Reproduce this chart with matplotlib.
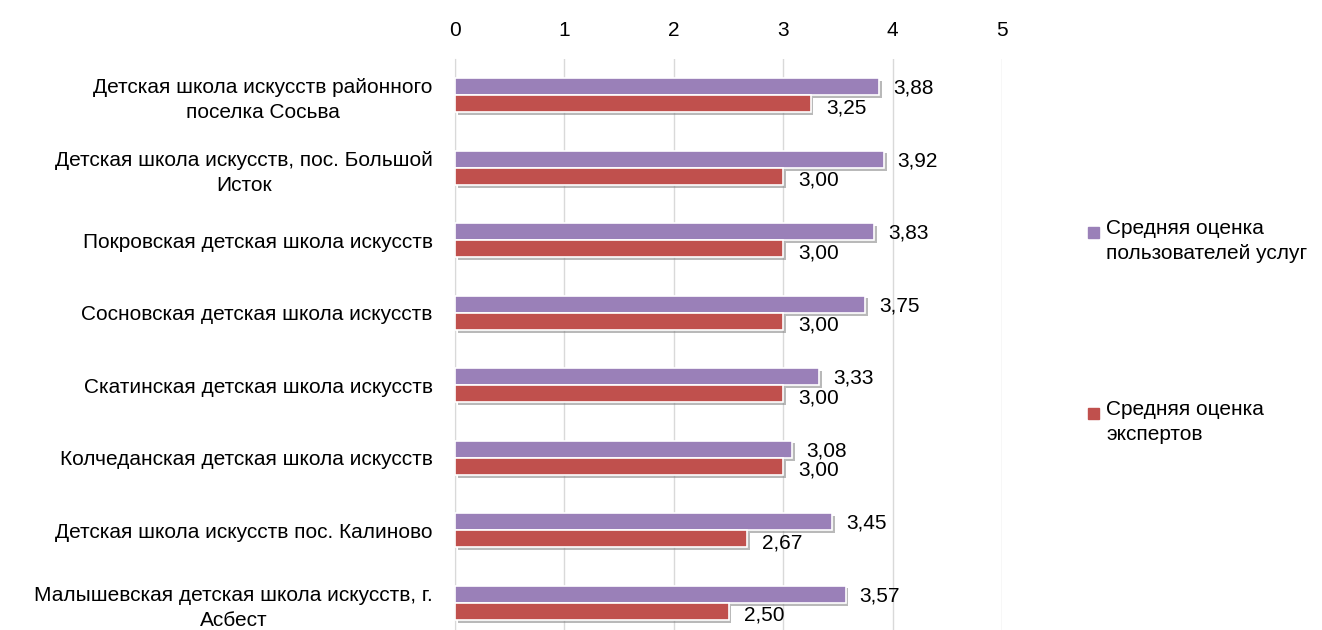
import matplotlib
matplotlib.use("Agg")
import matplotlib.pyplot as plt
import matplotlib.patheffects as pe
from matplotlib.patches import Rectangle
import numpy as np

plt.rcParams['font.family'] = ['Liberation Sans', 'DejaVu Sans']

categories = [
    "Детская школа искусств районного\nпоселка Сосьва",
    "Детская школа искусств, пос. Большой\nИсток",
    "Покровская детская школа искусств",
    "Сосновская детская школа искусств",
    "Скатинская детская школа искусств",
    "Колчеданская детская школа искусств",
    "Детская школа искусств пос. Калиново",
    "Малышевская детская школа искусств, г.\nАсбест",
]
users = [3.88, 3.92, 3.83, 3.75, 3.33, 3.08, 3.45, 3.57]
experts = [3.25, 3.00, 3.00, 3.00, 3.00, 3.00, 2.67, 2.50]
series_names = ["Средняя оценка\nпользователей услуг", "Средняя оценка\nэкспертов"]
xticks = [0, 1, 2, 3, 4, 5]

c_users = "#9A80B8"
c_exp = "#C0504D"
FS = 15

fig = plt.figure(figsize=(13.22, 6.30), dpi=100)
W, H = 1322, 630
ax = fig.add_axes([455 / W, (630 - 639) / H, (1002 - 455) / W, (639 - 59) / H])

n = len(categories)
y = np.arange(n)
bh = 0.235
shadow = [pe.SimplePatchShadow(offset=(2, -2), shadow_rgbFace="#808080", alpha=0.55), pe.Normal()]
b1 = ax.barh(y - bh / 2, users, height=bh, color=c_users, edgecolor="white", linewidth=1.2,
             label=series_names[0], zorder=3)
b2 = ax.barh(y + bh / 2, experts, height=bh, color=c_exp, edgecolor="white", linewidth=1.2,
             label=series_names[1], zorder=3)
for b in list(b1) + list(b2):
    b.set_path_effects(shadow)

for i in range(n):
    ax.annotate(f"{users[i]:.2f}".replace(".", ","), (users[i], y[i] - bh / 2), xytext=(10, -1),
                textcoords="offset points", ha="left", va="center", fontsize=FS, zorder=5)
    ax.annotate(f"{experts[i]:.2f}".replace(".", ","), (experts[i], y[i] + bh / 2), xytext=(11, -3),
                textcoords="offset points", ha="left", va="center", fontsize=FS, zorder=5)

ax.set_xlim(0, 5)
ax.set_ylim(n - 0.5, -0.5)
ax.set_xticks(xticks)
ax.set_xticklabels([str(t) for t in xticks], fontsize=FS)
ax.xaxis.tick_top()
ax.tick_params(axis="x", length=0, pad=14)
ax.set_yticks(y)
ax.set_yticklabels(categories, fontsize=FS, ha="right", linespacing=1.4)
for t in ax.get_yticklabels():
    t.set_multialignment("center")
ax.tick_params(axis="y", length=0, pad=16)
ax.grid(axis="x", color="#D9D9D9", linewidth=1, zorder=0)
for s in ["top", "right", "bottom"]:
    ax.spines[s].set_visible(False)
ax.spines["left"].set_color("#D9D9D9")

# legend drawn manually so that each square aligns with the first text line
for (ypix, txt, col) in [(232, series_names[0], c_users), (413, series_names[1], c_exp)]:
    fig.patches.append(Rectangle((1088 / W, 1 - (ypix + 6) / H), 11 / W, 11 / H,
                                 transform=fig.transFigure, color=col, figure=fig))
    fig.text(1106 / W, 1 - (ypix - 13) / H, txt, fontsize=FS, ha="left", va="top",
             linespacing=1.4)

fig.savefig("out.png", dpi=100)
